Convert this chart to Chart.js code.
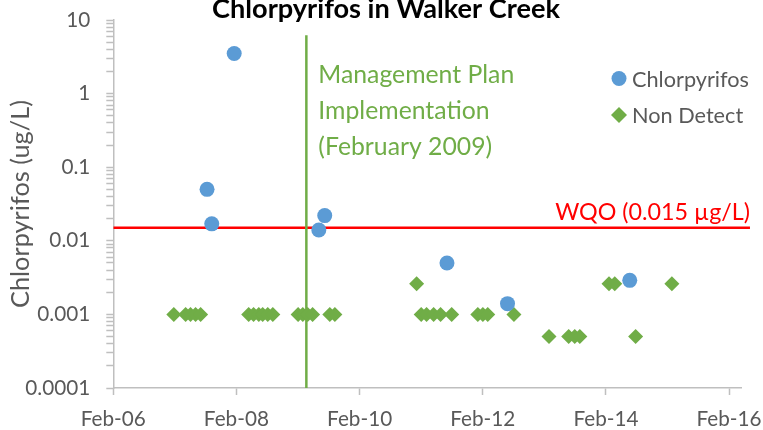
<!DOCTYPE html>
<html><head><meta charset="utf-8">
<script src="https://cdn.jsdelivr.net/npm/chart.js@4.4.0/dist/chart.umd.min.js"></script>
<style>html,body{margin:0;padding:0;background:#fff;}canvas{display:block;}</style>
</head><body>
<canvas id="c" width="763" height="430"></canvas>
<script>
// ---------- data ----------
const chartTitle = 'Chlorpyrifos in Walker Creek';
const yAxisTitle = 'Chlorpyrifos (ug/L)';
const detectLabel = 'Chlorpyrifos';
const nonDetectLabel = 'Non Detect';

const detectDates  = ['2007-08-11','2007-09-08','2008-01-19','2009-06-04','2009-07-09','2011-07-04','2012-06-27','2014-06-22'];
const detectValues = [0.05, 0.017, 3.5, 0.014, 0.022, 0.005, 0.0014, 0.0029];

const nonDetectDates = ['2007-01-26','2007-04-06','2007-05-05','2007-06-04','2007-07-04',
  '2008-04-14','2008-05-13','2008-06-13','2008-07-06','2008-08-05','2008-09-04',
  '2009-02-01','2009-03-01','2009-03-30','2009-04-28','2009-08-08','2009-09-07',
  '2011-01-05','2011-02-01','2011-03-05','2011-04-16','2011-05-27','2011-08-01',
  '2012-01-03','2012-02-02','2012-03-02','2012-08-04',
  '2013-02-28','2013-06-25','2013-07-31','2013-08-30',
  '2014-02-19','2014-03-25','2014-07-27','2015-02-27'];
const nonDetectValues = [0.001,0.001,0.001,0.001,0.001,
  0.001,0.001,0.001,0.001,0.001,0.001,
  0.001,0.001,0.001,0.001,0.001,0.001,
  0.0026,0.001,0.001,0.001,0.001,0.001,
  0.001,0.001,0.001,0.001,
  0.0005,0.0005,0.0005,0.0005,
  0.0026,0.0026,0.0005,0.0026];

const wqoValue = 0.015;
const wqoLabel = 'WQO (0.015 µg/L)';
const wqoDates = ['2006-02-01','2016-06-04'];

const planDate = '2009-03-22';
const planRange = [0.0001, 6.2];
const planLabelLines = ['Management Plan','Implementation','(February 2009)'];

const xRange = ['2006-02-01','2016-04-16'];
const xTickDates  = ['2006-02-01','2008-02-01','2010-02-01','2012-02-01','2014-02-01','2016-02-01'];
const xTickLabels = ['Feb-06','Feb-08','Feb-10','Feb-12','Feb-14','Feb-16'];
const yTickValues = [0.0001, 0.001, 0.01, 0.1, 1, 10];
const yTickLabels = ['0.0001','0.001','0.01','0.1','1','10'];

// ---------- helpers ----------
const day = s => Date.UTC(+s.slice(0,4), +s.slice(5,7)-1, +s.slice(8,10)) / 86400000;
const FONT = 'Lato';
const mctx = document.createElement('canvas').getContext('2d');
function fit(text, weight, target) {
  mctx.font = weight + ' 100px ' + FONT;
  return 100 * target / mctx.measureText(text).width;
}
const titleSize  = fit(chartTitle, 'bold', 348);
const tickSize   = fit('0.0001', 'normal', 65);
const legendSize = fit(detectLabel, 'normal', 117);
const annSize    = fit(planLabelLines[0], 'normal', 196);
const wqoSize    = fit(wqoLabel, 'normal', 195);
const yTitleSize = fit(yAxisTitle, 'normal', 208);

const BLUE = '#5B9BD5', GREEN = '#70AD47', RED = '#FF0000', GRAY = '#595959', AXIS = '#BFBFBF';

const minorTicks = [];
for (let i = 0; i < yTickValues.length - 1; i++) {
  for (let k = 2; k <= 9; k++) minorTicks.push(k * yTickValues[i]);
}

const overlay = {
  id: 'overlay',
  afterDraw(chart) {
    const ctx = chart.ctx, xs = chart.scales.x, ys = chart.scales.y;
    ctx.save();
    // title
    ctx.fillStyle = '#000';
    ctx.font = 'bold ' + titleSize + 'px ' + FONT;
    ctx.textAlign = 'center';
    ctx.textBaseline = 'alphabetic';
    ctx.fillText(chartTitle, 386, 18.3);
    // plan annotation
    ctx.fillStyle = GREEN;
    ctx.font = annSize + 'px ' + FONT;
    ctx.textAlign = 'left';
    const px = xs.getPixelForValue(day(planDate)) + 12;
    [83.3, 119, 155].forEach((b, i) => ctx.fillText(planLabelLines[i], px, b));
    // WQO label
    ctx.fillStyle = RED;
    ctx.font = wqoSize + 'px ' + FONT;
    ctx.textAlign = 'right';
    ctx.fillText(wqoLabel, 750, ys.getPixelForValue(wqoValue) - 8);
    // legend
    ctx.fillStyle = BLUE;
    ctx.beginPath(); ctx.arc(619, 78.5, 7.5, 0, Math.PI * 2); ctx.fill();
    ctx.fillStyle = GREEN;
    ctx.beginPath();
    ctx.moveTo(619 - 8, 115); ctx.lineTo(619, 107); ctx.lineTo(619 + 8, 115); ctx.lineTo(619, 123);
    ctx.closePath(); ctx.fill();
    ctx.fillStyle = GRAY;
    ctx.font = legendSize + 'px ' + FONT;
    ctx.textAlign = 'left';
    ctx.fillText(detectLabel, 632, 86.7);
    ctx.fillText(nonDetectLabel, 632, 123.3);
    ctx.restore();
  }
};

new Chart(document.getElementById('c'), {
  type: 'scatter',
  data: {
    datasets: [
      { label: detectLabel, order: 0,
        data: detectDates.map((d, i) => ({ x: day(d), y: detectValues[i] })),
        pointStyle: 'circle', pointRadius: 7.5, pointBorderWidth: 0,
        backgroundColor: BLUE, borderColor: BLUE },
      { label: nonDetectLabel, order: 1,
        data: nonDetectDates.map((d, i) => ({ x: day(d), y: nonDetectValues[i] })),
        pointStyle: 'rectRot', pointRadius: 7.5, pointBorderWidth: 0,
        backgroundColor: GREEN, borderColor: GREEN },
      { label: 'WQO', order: 3, showLine: true, pointRadius: 0, borderColor: RED, borderWidth: 2.5,
        clip: { left: 0, top: 0, right: 12, bottom: 0 },
        data: wqoDates.map(d => ({ x: day(d), y: wqoValue })) },
      { label: 'Plan', order: 2, showLine: true, pointRadius: 0, borderColor: GREEN, borderWidth: 2.5,
        data: planRange.map(v => ({ x: day(planDate), y: v })) }
    ]
  },
  options: {
    responsive: false,
    animation: false,
    devicePixelRatio: 1,
    layout: { padding: { left: 0, right: 21.3, top: 20, bottom: 0 } },
    plugins: { legend: { display: false }, tooltip: { enabled: false }, title: { display: false } },
    scales: {
      x: {
        type: 'linear',
        min: day(xRange[0]), max: day(xRange[1]),
        afterFit: s => { s.height = 42; s.paddingLeft = 0; s.paddingRight = 0; },
        afterBuildTicks: s => { s.ticks = xTickDates.map(d => ({ value: day(d) })); },
        ticks: {
          autoSkip: false, maxRotation: 0, padding: 12, color: GRAY,
          font: { family: FONT, size: tickSize },
          callback: (v, i) => xTickLabels[i]
        },
        grid: { drawOnChartArea: false, drawTicks: true, tickLength: 7, tickColor: AXIS, tickWidth: 1.5 },
        border: { display: true, color: AXIS, width: 1.5 }
      },
      y: {
        type: 'logarithmic',
        min: yTickValues[0], max: yTickValues[yTickValues.length - 1],
        afterFit: s => { s.width = 113.3; s.paddingTop = 0; s.paddingBottom = 0; },
        afterBuildTicks: s => {
          s.ticks = yTickValues.concat(minorTicks).sort((a, b) => a - b).map(v => ({ value: v }));
        },
        ticks: {
          autoSkip: false, padding: 16, color: GRAY,
          font: { family: FONT, size: tickSize },
          callback: v => {
            const i = yTickValues.findIndex(t => Math.abs(t - v) / t < 1e-6);
            return i >= 0 ? yTickLabels[i] : '';
          }
        },
        grid: { drawOnChartArea: false, drawTicks: true, tickLength: 7, tickColor: AXIS, tickWidth: 1.5 },
        border: { display: true, color: AXIS, width: 1.5 },
        title: { display: true, text: yAxisTitle, color: GRAY, padding: { top: 6, bottom: 0 },
                 font: { family: FONT, size: yTitleSize } }
      }
    }
  },
  plugins: [overlay]
});
</script>
</body></html>
